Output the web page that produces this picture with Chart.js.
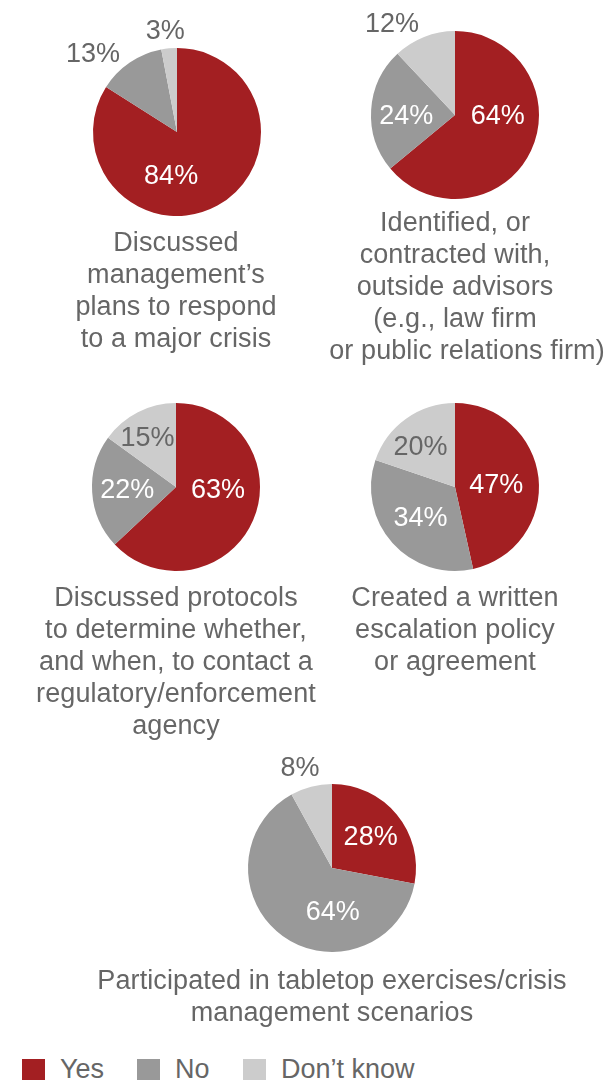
<!DOCTYPE html>
<html>
<head>
<meta charset="utf-8">
<script src="https://cdn.jsdelivr.net/npm/chart.js@4.4.0/dist/chart.umd.min.js"></script>
<style>
body { margin: 0; background: #fff; font-family: "Liberation Sans", Arial, sans-serif; color: #666; }
#wrap { position: relative; width: 609px; height: 1080px; overflow: hidden; }
.pie { position: absolute; width: 240px; height: 240px; }
.title { position: absolute; width: 600px; text-align: center; font-size: 27px; line-height: 32px; letter-spacing: 0.1px; white-space: nowrap; }
.leg { position: absolute; top: 1059px; height: 22px; font-size: 27px; line-height: 22px; }
.sw { position: absolute; top: 1059px; width: 23px; height: 22px; }
</style>
</head>
<body>
<div id="wrap"></div>
<script>
// answer categories and percentages for each question
const categories = ['Yes', 'No', "Don't know"];
const q1 = [84, 13, 3];
const q2 = [64, 24, 12];
const q3 = [63, 22, 15];
const q4 = [47, 34, 20];
const q5 = [28, 64, 8];

const titles1 = ['Discussed', 'management\u2019s', 'plans to respond', 'to a major crisis'];
const titles2 = ['Identified, or', 'contracted with,', 'outside advisors', '(e.g., law firm', 'or public relations firm)'];
const titles3 = ['Discussed protocols', 'to determine whether,', 'and when, to contact a', 'regulatory/enforcement', 'agency'];
const titles4 = ['Created a written', 'escalation policy', 'or agreement'];
const titles5 = ['Participated in tabletop exercises/crisis', 'management scenarios'];

const colors = ['#a31f22', '#999999', '#cccccc'];

// layout: pie centre, label offsets (in radius units), title position
const pies = [
  { data: q1, cx: 176.5, cy: 131.5, lab: [[-0.07, 0.53], [-1.0, -0.92], [-0.14, -1.19]], title: titles1, tx: 176, ty: 242 },
  { data: q2, cx: 455, cy: 115, lab: [[0.51, 0.02], [-0.58, 0.02], [-0.75, -1.08]], title: titles2, tx: 455, ty: 222 },
  { data: q3, cx: 175.5, cy: 486.5, lab: [[0.50, 0.04], [-0.58, 0.04], [-0.34, -0.58]], title: titles3, tx: 176, ty: 597 },
  { data: q4, cx: 454.5, cy: 486.5, lab: [[0.49, -0.02], [-0.41, 0.38], [-0.41, -0.47]], title: titles4, tx: 455, ty: 597 },
  { data: q5, cx: 331.5, cy: 867.5, lab: [[0.46, -0.36], [0.01, 0.53], [-0.38, -1.18]], title: titles5, tx: 332, ty: 980 }
];

const pctLabels = {
  id: 'pctLabels',
  afterDatasetsDraw(chart, args, opts) {
    const arc = chart.getDatasetMeta(0).data[0];
    const ctx = chart.ctx;
    ctx.save();
    ctx.font = '27px "Liberation Sans", Arial, sans-serif';
    ctx.textAlign = 'center';
    ctx.textBaseline = 'middle';
    chart.data.datasets[0].data.forEach((v, i) => {
      const [dx, dy] = opts.offsets[i];
      const outside = Math.hypot(dx, dy) > 1;
      ctx.fillStyle = (outside || i === 2) ? '#666666' : '#ffffff';
      ctx.fillText(v + '%', arc.x + dx * arc.outerRadius, arc.y + dy * arc.outerRadius);
    });
    ctx.restore();
  }
};

const wrap = document.getElementById('wrap');

pies.forEach(p => {
  const c = document.createElement('canvas');
  c.className = 'pie';
  c.width = 240;
  c.height = 240;
  c.style.left = (p.cx - 120) + 'px';
  c.style.top = (p.cy - 120) + 'px';
  wrap.appendChild(c);

  new Chart(c, {
    type: 'pie',
    data: {
      labels: categories,
      datasets: [{ data: p.data, backgroundColor: colors, borderWidth: 0 }]
    },
    options: {
      responsive: false,
      animation: false,
      events: [],
      layout: { padding: 36 },
      plugins: {
        legend: { display: false },
        tooltip: { enabled: false },
        pctLabels: { offsets: p.lab }
      }
    },
    plugins: [pctLabels]
  });

  const t = document.createElement('div');
  t.className = 'title';
  t.style.left = (p.tx - 300) + 'px';
  t.style.top = (p.ty - 16) + 'px';
  t.innerHTML = p.title.map(s => s.startsWith('or public') ? '<span style="position:relative;left:12px">' + s + '</span>' : s).join('<br>');
  wrap.appendChild(t);
});

// legend
const legX = [22, 137, 243];
categories.forEach((name, i) => {
  const sw = document.createElement('div');
  sw.className = 'sw';
  sw.style.left = legX[i] + 'px';
  sw.style.background = colors[i];
  wrap.appendChild(sw);
  const l = document.createElement('div');
  l.className = 'leg';
  l.style.left = (legX[i] + 38) + 'px';
  l.style.top = '1058px';
  l.textContent = name.replace("'", '\u2019');
  wrap.appendChild(l);
});
</script>
</body>
</html>
